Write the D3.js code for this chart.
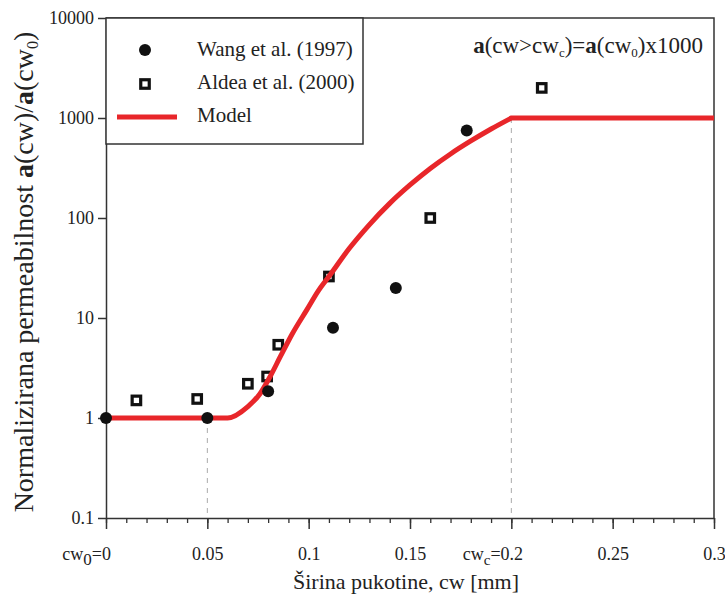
<!DOCTYPE html>
<html>
<head>
<meta charset="utf-8">
<script src="https://cdn.jsdelivr.net/npm/d3@7"></script>
<style>
  body { margin: 0; background: #fff; }
  svg text { font-family: "Liberation Serif", "Times New Roman", serif; fill: #222; }
</style>
</head>
<body>
<div id="chart"></div>
<script>
var w=725
var h=594
var pLeft=106, pRight=714, pTop=18, pBottom=518

// Wang et al. (1997)
var wangCw=[0, 0.05, 0.08, 0.112, 0.143, 0.178]
var wangA=[1, 1, 1.85, 8, 20, 750]
// Aldea et al. (2000)
var aldeaCw=[0.015, 0.045, 0.07, 0.0795, 0.085, 0.11, 0.16, 0.215]
var aldeaA=[1.5, 1.55, 2.2, 2.6, 5.4, 26, 100, 2000]
// model curve (rising part ends at cwc=0.2)
var modelCw=[0, 0.06, 0.07, 0.076, 0.081, 0.086, 0.092, 0.099, 0.105, 0.11, 0.12, 0.13, 0.14, 0.15, 0.16, 0.17, 0.18, 0.19, 0.2, 0.3]
var modelA=[1, 1, 1.3, 1.75, 2.6, 4.1, 7, 12, 19, 26, 49.5, 86, 140, 214, 313, 437, 589, 776, 1000, 1000]
var cwc=0.2
// dashed guides
var guideCw=[0.05, 0.2]
var guideA=[1, 1000]

var xTicks=[0, 0.05, 0.1, 0.15, 0.2, 0.25, 0.3]
var xMinor=d3.range(0, 31).map(function(i) {return i/100;})
var yTicks=[0.1, 1, 10, 100, 1000, 10000]
var yTickLabels=["0.1","1","10","100","1000","10000"]

var svg=d3.select("#chart")
          .append("svg")
          .attr("width",w)
          .attr("height",h);

var xScale=d3.scaleLinear().domain([0,0.3]).range([pLeft,pRight]);
var yScale=d3.scaleLog().domain([0.1,10000]).range([pBottom,pTop]);

//Frame: top and right
svg.append("path")
   .attr("d","M"+pLeft+","+pTop+"H"+pRight+"V"+pBottom)
   .attr("fill","none")
   .attr("stroke","#333")
   .attr("stroke-width",1.5);

//Dashed guides
svg.append("g").selectAll("line")
   .data(guideCw)
   .enter()
   .append("line")
   .attr("x1",function(d) {return xScale(d);})
   .attr("x2",function(d) {return xScale(d);})
   .attr("y1",function(d,i) {return yScale(guideA[i]);})
   .attr("y2",yScale(0.1))
   .attr("stroke","#aaa")
   .attr("stroke-width",1)
   .attr("stroke-dasharray","5,5");

//Minor x ticks
svg.append("g")
   .attr("transform","translate(0,"+pBottom+")")
   .call(d3.axisBottom(xScale).tickValues(xMinor).tickSize(5).tickFormat(""))
   .call(function(g) {
       g.select(".domain").remove();
       g.selectAll("line").attr("stroke","#333").attr("stroke-width",1.3);
   });

//Major x axis
var xAxis=svg.append("g")
   .attr("transform","translate(0,"+pBottom+")")
   .call(d3.axisBottom(xScale).tickValues(xTicks).tickSize(11).tickSizeOuter(0).tickPadding(18)
           .tickFormat(function(d) {return String(d);}));
xAxis.select(".domain").attr("stroke","#333").attr("stroke-width",1.5);
xAxis.selectAll("line").attr("stroke","#333").attr("stroke-width",1.5);
xAxis.selectAll("text").attr("font-size",18).attr("font-family",null).attr("fill","#222");

//Prefixes for cw0 and cwc ticks
var prefixes={"0":"0", "0.2":"c"};
xAxis.selectAll(".tick text").each(function(d) {
    var sub=prefixes[String(d)];
    if (sub===undefined) return;
    var t=d3.select(this);
    var num=t.text();
    var half=this.getComputedTextLength()/2;
    t.text(null).attr("text-anchor","end").attr("x",half);
    t.append("tspan").text("cw");
    t.append("tspan").text(sub).attr("dy",5).attr("font-size",sub=="0"?17:15);
    t.append("tspan").text("="+num).attr("dy",-5);
});

//Y axis
var yAxis=svg.append("g")
   .attr("transform","translate("+pLeft+",0)")
   .call(d3.axisLeft(yScale).tickValues(yTicks).tickSize(8).tickSizeOuter(0).tickPadding(4)
           .tickFormat(function(d,i) {return yTickLabels[i];}));
yAxis.select(".domain").attr("stroke","#333").attr("stroke-width",1.5);
yAxis.selectAll("line").attr("stroke","#333").attr("stroke-width",1.5);
yAxis.selectAll("text").attr("font-size",18).attr("font-family",null).attr("fill","#222");

//Axis labels
svg.append("text")
   .attr("x",(pLeft+pRight)/2-4)
   .attr("y",589)
   .attr("text-anchor","middle")
   .attr("font-size",22)
   .text("Širina pukotine, cw [mm]");

var yLab=svg.append("text")
   .attr("transform","translate(33,272) rotate(-90)")
   .attr("text-anchor","middle")
   .attr("font-size",28);
yLab.append("tspan").text("Normalizirana permeabilnost ");
yLab.append("tspan").text("a").attr("font-weight","bold");
yLab.append("tspan").text("(cw)/");
yLab.append("tspan").text("a").attr("font-weight","bold");
yLab.append("tspan").text("(cw");
yLab.append("tspan").text("0").attr("font-size",16).attr("dy",5);
yLab.append("tspan").text(")").attr("dy",-5);

//Aldea squares
svg.append("g").selectAll("rect")
   .data(aldeaCw)
   .enter()
   .append("rect")
   .attr("x",function(d) {return xScale(d)-4.25;})
   .attr("y",function(d,i) {return yScale(aldeaA[i])-4.25;})
   .attr("width",8.5)
   .attr("height",8.5)
   .attr("fill","#fff")
   .attr("stroke","#111")
   .attr("stroke-width",3.2);

//Model line: smooth rise up to cwc, straight plateau after it
var line=d3.line()
   .x(function(d) {return xScale(d.cw);})
   .y(function(d) {return yScale(d.a);})
   .curve(d3.curveMonotoneX);
var modelPts=modelCw.map(function(d,i) {return {cw:d, a:modelA[i]};});
var rise=modelPts.filter(function(d) {return d.cw<=cwc;});
var plateau=modelPts.filter(function(d) {return d.cw>cwc;});
var modelPath=line(rise)+plateau.map(function(d) {return "L"+xScale(d.cw)+","+yScale(d.a);}).join("");
svg.append("path")
   .attr("d",modelPath)
   .attr("fill","none")
   .attr("stroke","#e8262a")
   .attr("stroke-width",5);

//Wang circles
svg.append("g").selectAll("circle")
   .data(wangCw)
   .enter()
   .append("circle")
   .attr("cx",function(d) {return xScale(d);})
   .attr("cy",function(d,i) {return yScale(wangA[i]);})
   .attr("r",6)
   .attr("fill","#111");

//Annotation
var note=svg.append("text")
   .attr("x",703)
   .attr("y",53)
   .attr("text-anchor","end")
   .attr("font-size",23);
note.append("tspan").text("a").attr("font-weight","bold");
note.append("tspan").text("(cw>cw");
note.append("tspan").text("c").attr("font-size",13).attr("dy",4);
note.append("tspan").text(")=").attr("dy",-4);
note.append("tspan").text("a").attr("font-weight","bold");
note.append("tspan").text("(cw");
note.append("tspan").text("0").attr("font-size",13).attr("dy",4);
note.append("tspan").text(")x1000").attr("dy",-4);

//Legend
var legend=svg.append("g");
legend.append("rect")
   .attr("x",pLeft)
   .attr("y",pTop)
   .attr("width",257)
   .attr("height",126)
   .attr("fill","#fff")
   .attr("stroke","#333")
   .attr("stroke-width",1.5);
legend.append("circle").attr("cx",145).attr("cy",50).attr("r",6).attr("fill","#111");
legend.append("rect").attr("x",140.75).attr("y",79.75).attr("width",8.5).attr("height",8.5)
   .attr("fill","#fff").attr("stroke","#111").attr("stroke-width",3.2);
legend.append("line").attr("x1",117).attr("x2",177).attr("y1",117).attr("y2",117)
   .attr("stroke","#e8262a").attr("stroke-width",5);
var legendNames=["Wang et al. (1997)","Aldea et al. (2000)","Model"];
legend.selectAll("text.lab")
   .data(legendNames)
   .enter()
   .append("text")
   .attr("class","lab")
   .attr("x",197)
   .attr("y",function(d,i) {return 56+i*33;})
   .attr("font-size",21)
   .text(function(d) {return d;});
</script>
</body>
</html>
